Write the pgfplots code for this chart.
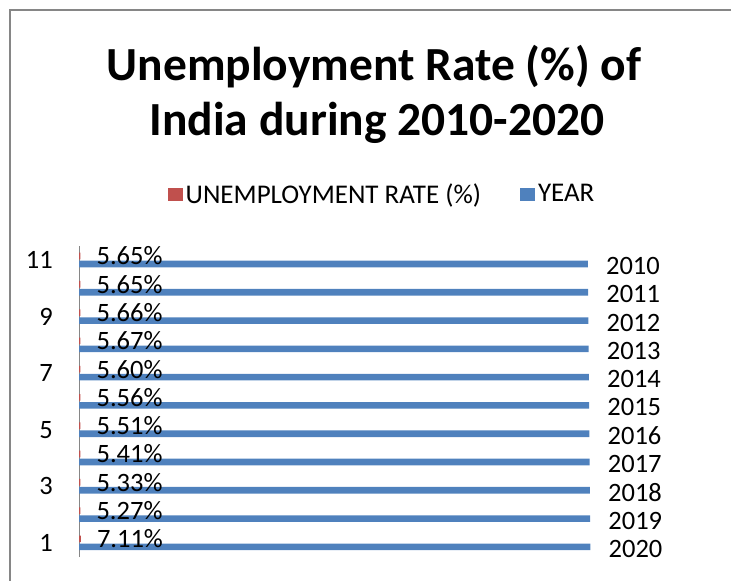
\documentclass[border=0pt]{standalone}
\usepackage{pgfplots}
\pgfplotsset{compat=1.18}
\usepackage{pgfplotstable}
\usepackage{fontspec}
\setmainfont{Carlito}
\definecolor{exred}{HTML}{C0504D}
\definecolor{exblue}{HTML}{4F81BD}
\definecolor{bordergray}{HTML}{868686}

\pgfplotstableread{
cat rate year
1 7.11 2020
2 5.27 2019
3 5.33 2018
4 5.41 2017
5 5.51 2016
6 5.56 2015
7 5.60 2014
8 5.67 2013
9 5.66 2012
10 5.65 2011
11 5.65 2010
}\datatable

\begin{document}
\begin{tikzpicture}[x=1pt,y=1pt]
\useasboundingbox (0,0) rectangle (731,581);
\draw[bordergray, line width=1.5pt] (10,-2) -- (10,571) -- (733,571);
\node[font=\fontsize{47.5}{56}\selectfont\bfseries, anchor=base] at (374,500) {Unemployment Rate (\%) of};
\node[font=\fontsize{47.5}{56}\selectfont\bfseries, anchor=base] at (377,445) {India during 2010-2020};
\begin{axis}[
  at={(79pt,24pt)}, anchor=south west,
  scale only axis, width=635pt, height=311.15pt,
  xbar, xmin=0, xmax=2508, ymin=0.5, ymax=11.5,
  axis y line*=left, axis x line=none,
  y axis line style={draw=bordergray, line width=1pt},
  ytick={1,3,5,7,9,11}, major tick length=0pt,
  yticklabel style={anchor=east, inner sep=0pt, xshift=-26pt, font=\fontsize{26.5}{30}\selectfont},
  xtick=\empty,
  bar width=6.6pt,
  clip=false,
  /pgf/number format/assume math mode=true,
  legend columns=2,
  legend style={at={(0.478,1.167)}, anchor=center, draw=none, fill=none,
    font=\fontsize{27}{31}\selectfont, inner sep=0pt,
    nodes={inner xsep=3pt},
    /tikz/every even column/.append style={column sep=36pt}},
  legend cell align=left,
  every axis plot post/.append style={
    legend image code/.code={\fill[##1] (0pt,-7.5pt) rectangle (15pt,6pt);}},
  nodes near coords,
  point meta=explicit symbolic,
  every node near coord/.append style={anchor=west, inner sep=0pt, font=\fontsize{26.5}{30}\selectfont},
]
\addplot[fill=exred, draw=none, bar shift=4pt, nodes near coords={\pgfplotspointmeta\%},
  every node near coord/.append style={xshift=16pt}]
  table[x=rate, y=cat, meta=rate] {\datatable};
\addlegendentry{UNEMPLOYMENT RATE (\%)}
\addplot[fill=exblue, draw=none, bar shift=-4pt,
  every node near coord/.append style={xshift=18pt, yshift=-2pt}]
  table[x=year, y=cat, meta=year] {\datatable};
\addlegendentry{YEAR}
\end{axis}
\end{tikzpicture}
\end{document}
